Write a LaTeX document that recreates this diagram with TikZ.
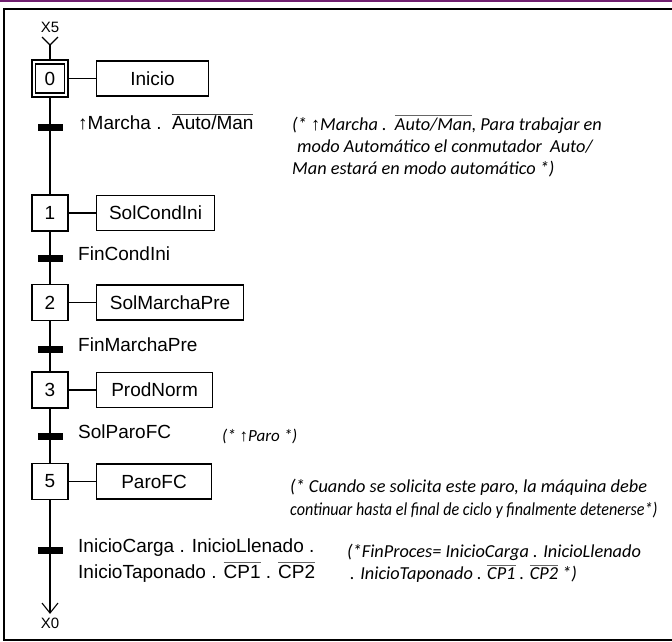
\documentclass[tikz,border=0pt]{standalone}
\usepackage{fontspec}
\setmainfont{Liberation Sans}
\newfontfamily\cmtfont{Carlito}
\newfontfamily\arrfont{Liberation Sans}
\newcommand\uparr{{\arrfont\symbol{"2191}}}
% overlined (negated) signal name
\newcommand\ovl[2][black!60]{\leavevmode\vbox{{\color{#1}\hrule height 0.9pt}\kern1.4pt\hbox{#2}}}
\definecolor{bandpurple}{RGB}{112,30,112}

\begin{document}
\begin{tikzpicture}[x=1pt,y=-1pt,
  every node/.style={inner sep=0pt},
  mainfont/.style={font=\fontsize{19}{22}\selectfont},
  stepbox/.style={draw, line width=1.1pt, minimum width=36pt, minimum height=36pt, mainfont},
  actbox/.style={draw, line width=1.1pt, minimum height=35pt, anchor=west, mainfont},
  bar/.style={fill=black, minimum width=25pt, minimum height=7pt},
  cond/.style={anchor=mid west, mainfont},
  condline/.style={anchor=base west, mainfont},
  cmt/.style={anchor=base west, font=\fontsize{18.3}{22}\selectfont\cmtfont\itshape},
  lbl/.style={font=\fontsize{15}{18}\selectfont},
  link/.style={line width=1.1pt},
  frame/.style={line width=1.8pt},
  ]
\useasboundingbox (0,0) rectangle (672,641);

% page band and frame
\fill[bandpurple] (0,0) rectangle (672,2.4);
\draw[frame] (672,9) -- (4,9) -- (4,640) -- (672,640);

% entry from X5
\node[lbl] (x5) at (50,27) {X5};
\coordinate (top) at (50,45);

% steps
\node[stepbox, minimum height=37pt] (s0) at (50,78.5) {};
\node[stepbox, minimum width=29pt, minimum height=29pt] (s0i) at (50,78.5) {0};
\node[stepbox] (s1) at (50,213) {1};
\node[stepbox] (s2) at (50,302.5) {2};
\node[stepbox] (s3) at (50,390) {3};
\node[stepbox] (s5) at (50,481.5) {5};

% actions
\node[actbox, minimum width=112pt] (a0) at (96,78.5) {Inicio};
\node[actbox, minimum width=118pt] (a1) at (96,213) {SolCondIni};
\node[actbox, minimum width=147pt] (a2) at (96,302.5) {SolMarchaPre};
\node[actbox, minimum width=116pt] (a3) at (96,390) {ProdNorm};
\node[actbox, minimum width=115pt] (a5) at (96,481.5) {ParoFC};

% exit to X0
\coordinate (bot) at (50,613);
\node[lbl] (x0) at (50,623) {X0};

% main line
\draw[link] (top) -- (s0.north);
\draw[link] (s0.south) -- (s1.north);
\draw[link] (s1.south) -- (s2.north);
\draw[link] (s2.south) -- (s3.north);
\draw[link] (s3.south) -- (s5.north);
\draw[link] (s5.south) -- (bot);
\draw[link] (top) ++(-8,-8) -- (top) -- ++(8,-8);
\draw[link] (bot) ++(-8,-10) -- (bot) -- ++(8,-10);

% step-to-action links
\draw[link] (s0.east) -- (a0.west);
\draw[link] (s1.east) -- (a1.west);
\draw[link] (s2.east) -- (a2.west);
\draw[link] (s3.east) -- (a3.west);
\draw[link] (s5.east) -- (a5.west);

% transitions
\node[bar] (t1) at (50,127) {};
\node[bar] (t2) at (50,258) {};
\node[bar] (t3) at (50,349) {};
\node[bar] (t4) at (50,436) {};
\node[bar] (t5) at (50,550) {};

\node[cond] (c1) at (78,127) {\uparr Marcha .\ \ \ovl[black!75]{Auto/Man}};
\node[cond] (c2) at (78,258) {FinCondIni};
\node[cond] (c3) at (78,349) {FinMarchaPre};
\node[cond] (c4) at (78,436) {SolParoFC};
\node[cond] (c5a) at (78,550) {InicioCarga . InicioLlenado .};
\node[condline] (c5b) at (78,578) {InicioTaponado . \ovl{CP1} . \ovl{CP2}};

% comments
\node[cmt] (m1a) at (292,130) {(* \uparr Marcha .\ \ \ovl{Auto/Man}, Para trabajar en};
\node[cmt] (m1b) at (297,152) {modo Automático el conmutador\ \ Auto/};
\node[cmt] (m1c) at (292,174) {Man estará en modo automático *)};
\node[cmt, font=\fontsize{17}{22}\selectfont\cmtfont\itshape] (m4) at (222,441) {(* \uparr Paro *)};
\node[cmt] (m5a) at (290,492) {(* Cuando se solicita este paro, la máquina debe};
\node[cmt] (m5b) at (290,515) {\scalebox{0.88}[1]{continuar hasta el final de ciclo y finalmente detenerse*)}};
\node[cmt] (m6a) at (347,557) {(*FinProces= InicioCarga . InicioLlenado};
\node[cmt] (m6b) at (350,579) {. InicioTaponado . \ovl{CP1} . \ovl{CP2} *)};
\end{tikzpicture}
\end{document}
